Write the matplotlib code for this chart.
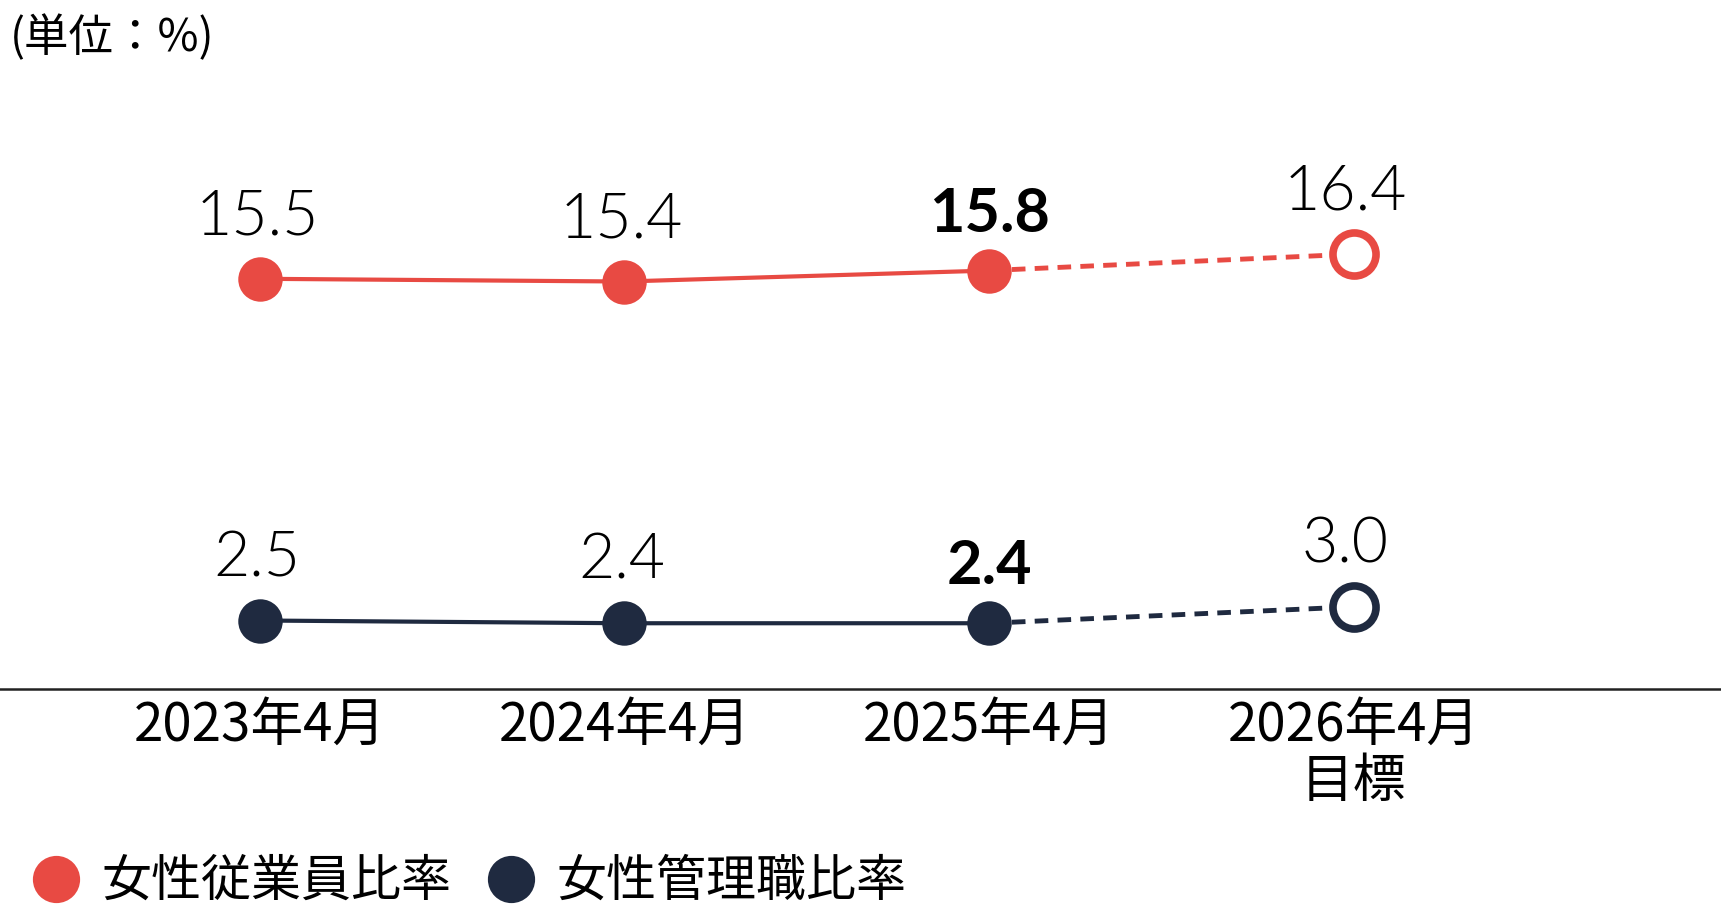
import numpy as np
import matplotlib.pyplot as plt
from matplotlib.lines import Line2D

plt.rcParams['font.family'] = ['Noto Sans CJK JP', 'DejaVu Sans']

periods = ['2023年4月', '2024年4月', '2025年4月', '2026年4月\n目標']
female_staff = [15.5, 15.4, 15.8, 16.4]     # 女性従業員比率
female_mgr = [2.5, 2.4, 2.4, 3.0]           # 女性管理職比率
bold_idx = 2                                 # latest actual value shown in bold

RED = '#E84A43'
NAVY = '#1F2A40'
W, H = 1721, 921
px_unit = 27.4  # pixels per percentage point, same for both panels

fig = plt.figure(figsize=(W / 100, H / 100), dpi=100)

# upper panel (女性従業員比率)
ax_top = fig.add_axes([0, 1 - 350 / H, 1, 200 / H])
top_hi = 20.2
ax_top.set_ylim(top_hi - 200 / px_unit, top_hi)
# lower panel (女性管理職比率), baseline at 0
ax_bot = fig.add_axes([0, 1 - 689 / H, 1, 200 / H])
ax_bot.set_ylim(0, 200 / px_unit)

x = np.arange(len(periods))
for ax in (ax_top, ax_bot):
    ax.set_xlim(-0.712, 4.007)
    ax.set_facecolor('none')
    for s in ax.spines.values():
        s.set_visible(False)
    ax.set_yticks([])
ax_top.set_xticks([])

num_font = ['Lato', 'DejaVu Sans']


def draw_series(ax, vals, color):
    ax.plot(x[:3], vals[:3], color=color, lw=3, clip_on=False, zorder=2)
    ax.plot(x[2:], vals[2:], color=color, lw=3.5, dashes=(2.8, 1.9),
            clip_on=False, zorder=1)
    ax.plot(x[:3], vals[:3], 'o', ms=32, color=color, mec='none',
            clip_on=False, zorder=3)
    ax.plot(x[3], vals[3], 'o', ms=31, mfc='white', mec=color, mew=5.5,
            clip_on=False, zorder=3)
    for i, v in enumerate(vals):
        if i == bold_idx:
            ax.annotate(f'{v:.1f}', (x[i], v), xytext=(0, 28),
                        textcoords='offset points', ha='center', va='baseline',
                        fontsize=44, fontweight='bold', family=num_font)
        else:
            ax.annotate(f'{v:.1f}', (x[i], v), xytext=(-6 if i == 3 else -2, 32),
                        textcoords='offset points', ha='center', va='baseline',
                        fontsize=45, fontweight=300, family=num_font)


draw_series(ax_top, female_staff, RED)
draw_series(ax_bot, female_mgr, NAVY)

# baseline + period labels
ax_bot.spines['bottom'].set_visible(True)
ax_bot.spines['bottom'].set_linewidth(1.8)
ax_bot.spines['bottom'].set_color('#222222')
ax_bot.set_xticks(x)
ax_bot.set_xticklabels(periods, fontsize=38, linespacing=1.05)
ax_bot.tick_params(axis='x', length=0, pad=6)

fig.text(10 / W, 1 - 38 / H, '(単位：%)', fontsize=32, ha='left', va='center')

handles = [Line2D([], [], marker='o', ls='', ms=34, color=RED, mec='none'),
           Line2D([], [], marker='o', ls='', ms=34, color=NAVY, mec='none')]
fig.legend(handles, ['女性従業員比率', '女性管理職比率'], loc='center left',
           bbox_to_anchor=(31 / W, 1 - 882 / H), ncol=2, frameon=False,
           fontsize=36, handlelength=1.0, handletextpad=0.4, columnspacing=0.7,
           borderpad=0, borderaxespad=0)

fig.savefig('out.png', dpi=100)
